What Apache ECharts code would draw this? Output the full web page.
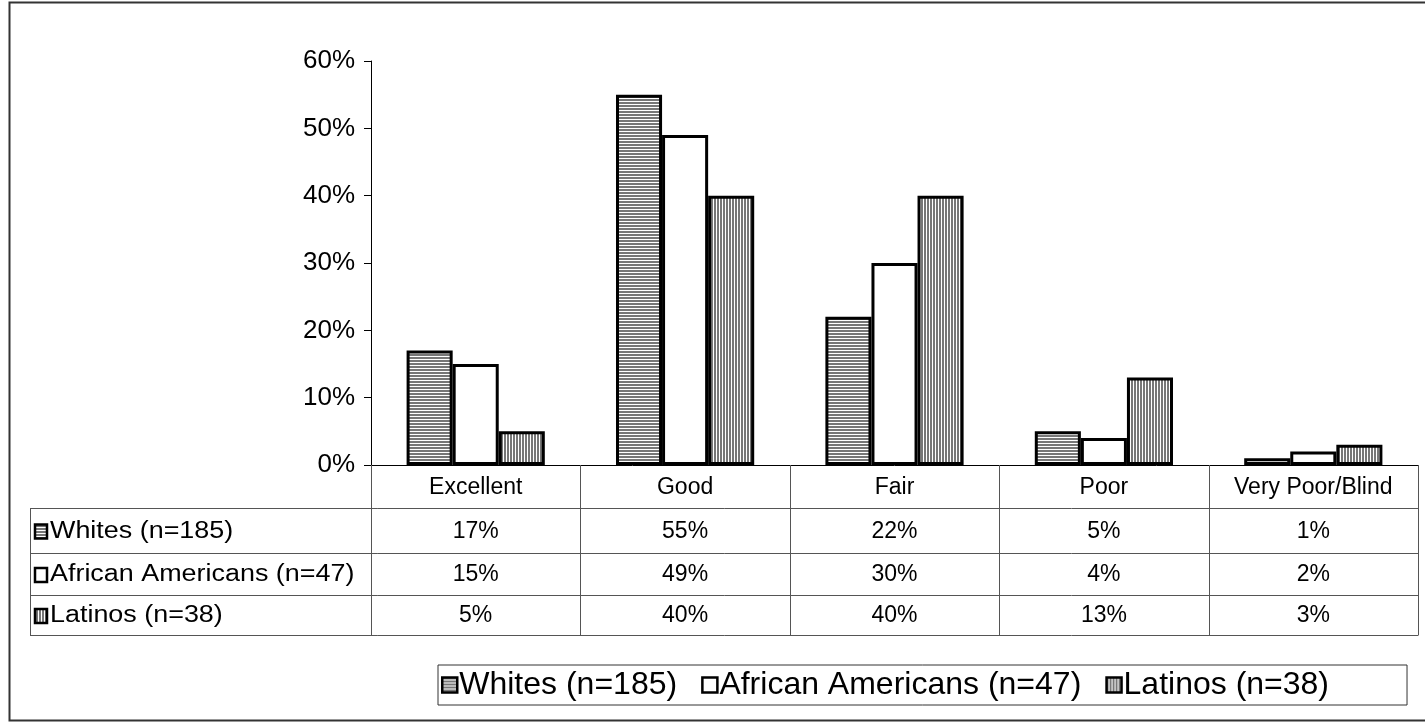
<!DOCTYPE html>
<html>
<head>
<meta charset="utf-8">
<style>
  html, body { margin: 0; padding: 0; background: #fff; }
  #chart { width: 1425px; height: 722px; }
</style>
<script src="https://cdn.jsdelivr.net/npm/echarts@6/dist/echarts.min.js"></script>
</head>
<body>
<div id="chart"></div>
<script>
// Self-rated vision by group, share of respondents (%)
const categories = ['Excellent', 'Good', 'Fair', 'Poor', 'Very Poor/Blind'];
const whites = [17, 55, 22, 5, 1];
const africanAmericans = [15, 49, 30, 4, 2];
const latinos = [5, 40, 40, 13, 3];
const seriesNames = ['Whites (n=185)', 'African Americans (n=47)', 'Latinos (n=38)'];
const yMax = 60;
const yStep = 10;

const FONT = 'Liberation Sans, Arial, sans-serif';
const TABLE_FONT_SIZE = 23;

// striped fills drawn on tiny canvases and repeated
function stripes(horizontal) {
  const c = document.createElement('canvas');
  c.width = horizontal ? 4 : 3;
  c.height = horizontal ? 3 : 4;
  const g = c.getContext('2d');
  g.fillStyle = '#ffffff';
  g.fillRect(0, 0, c.width, c.height);
  g.fillStyle = '#777777';
  if (horizontal) g.fillRect(0, 0, c.width, 2);
  else g.fillRect(0, 0, 2, c.height);
  return { image: c, repeat: 'repeat' };
}
const fills = [stripes(true), '#ffffff', stripes(false)];
const seriesData = [whites, africanAmericans, latinos];

const chart = echarts.init(document.getElementById('chart'), null, { renderer: 'canvas' });

const option = {
  animation: false,
  backgroundColor: '#ffffff',
  grid: { left: 371, top: 61, right: 7, bottom: 257 },
  legend: {
    data: seriesNames,
    icon: 'rect',
    left: 438,
    top: 665,
    itemWidth: 15,
    itemHeight: 15,
    itemGap: 24,
    padding: [4, 78, 4, 3],
    borderColor: '#333',
    borderWidth: 1,
    borderRadius: 0,
    itemStyle: { borderColor: '#000', borderWidth: 2.5 },
    textStyle: { fontFamily: FONT, fontSize: 32, lineHeight: 32, color: '#000', padding: [0, 0, 0, -3] }
  },
  xAxis: {
    type: 'category',
    data: categories,
    axisLine: { lineStyle: { color: '#000', width: 1 } },
    axisTick: { show: false },
    axisLabel: { margin: 11, fontFamily: FONT, fontSize: TABLE_FONT_SIZE, color: '#000' }
  },
  yAxis: {
    type: 'value',
    min: 0,
    max: yMax,
    interval: yStep,
    splitLine: { show: false },
    axisLine: { show: true, lineStyle: { color: '#000', width: 1 } },
    axisTick: { show: true, length: 7, lineStyle: { color: '#000' } },
    axisLabel: { margin: 16, fontFamily: FONT, fontSize: 26, color: '#000', formatter: '{value}%' }
  },
  series: seriesNames.map((name, i) => ({
    name,
    type: 'bar',
    data: seriesData[i],
    barGap: '0%',
    barCategoryGap: '34%',
    itemStyle: { color: fills[i], borderColor: '#000', borderWidth: 3 }
  }))
};
chart.setOption(option);

// data table under the plot, built from the same arrays
function buildTable() {
  const els = [];
  const y0 = chart.convertToPixel({ yAxisIndex: 0 }, 0);
  const c0 = chart.convertToPixel({ xAxisIndex: 0 }, 0);
  const c1 = chart.convertToPixel({ xAxisIndex: 0 }, 1);
  const band = c1 - c0;
  const leftX = c0 - band / 2;
  const rightX = leftX + band * categories.length;
  const tableLeft = 30;
  const rowEdges = [508, 553, 595, 635];
  const lineStyle = { stroke: '#555', lineWidth: 1 };
  const crisp = v => Math.round(v) + 0.5;
  const font = TABLE_FONT_SIZE + 'px ' + FONT;

  // vertical lines: plot left edge and category boundaries
  for (let k = 0; k <= categories.length; k++) {
    const x = crisp(leftX + band * k);
    els.push({ type: 'line', shape: { x1: x, y1: y0, x2: x, y2: rowEdges[rowEdges.length - 1] }, style: lineStyle, z: 10 });
  }
  // left column border
  els.push({ type: 'line', shape: { x1: crisp(tableLeft), y1: rowEdges[0], x2: crisp(tableLeft), y2: rowEdges[rowEdges.length - 1] }, style: lineStyle, z: 10 });
  // horizontal row lines
  rowEdges.forEach(y => {
    els.push({ type: 'line', shape: { x1: tableLeft, y1: crisp(y), x2: crisp(rightX), y2: crisp(y) }, style: lineStyle, z: 10 });
  });

  // row headers with swatches, then the values
  for (let r = 0; r < seriesNames.length; r++) {
    const yc = (rowEdges[r] + rowEdges[r + 1]) / 2 + 1;
    els.push({
      type: 'rect',
      shape: { x: 35, y: yc - 7, width: 12, height: 14 },
      style: { fill: fills[r], stroke: '#000', lineWidth: 2.5 },
      z: 10
    });
    els.push({
      type: 'text',
      x: 50, y: yc,
      scaleX: 1.17,
      style: { text: seriesNames[r], font: font, fill: '#000', textAlign: 'left', textVerticalAlign: 'middle' },
      z: 10
    });
    seriesData[r].forEach((v, k) => {
      els.push({
        type: 'text',
        x: c0 + band * k, y: yc,
        style: { text: v + '%', font: font, fill: '#000', textAlign: 'center', textVerticalAlign: 'middle' },
        z: 10
      });
    });
  }

  // outer frame
  els.push({
    type: 'rect',
    shape: { x: 9.5, y: 2.5, width: 1430, height: 718 },
    style: { fill: 'none', stroke: '#333', lineWidth: 2 },
    z: 0
  });
  return els;
}
chart.setOption({ graphic: { elements: buildTable() } });
</script>
</body>
</html>
